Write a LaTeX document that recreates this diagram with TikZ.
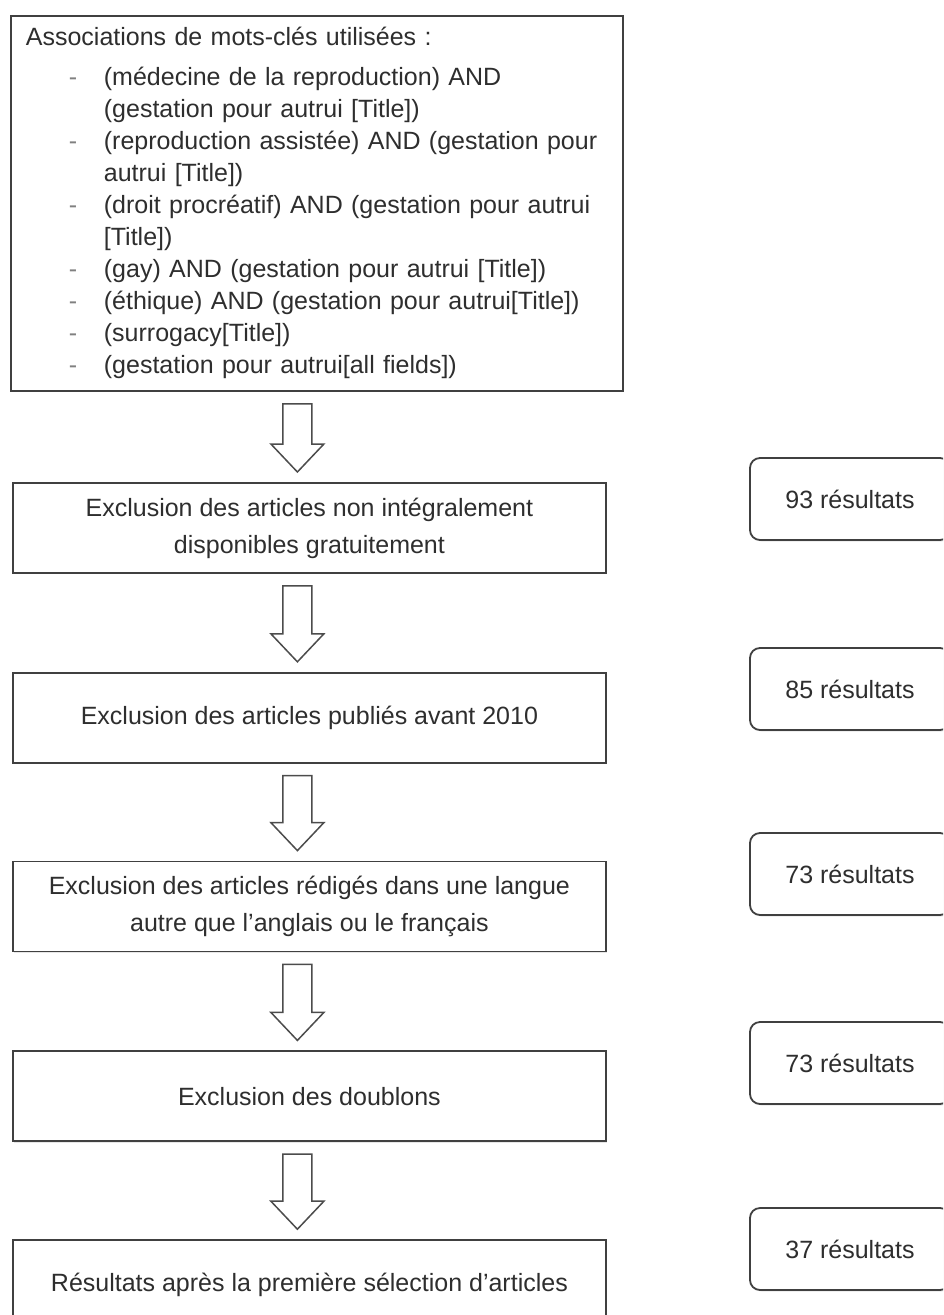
\documentclass[tikz,border=0pt]{standalone}
\usepackage{fontspec}
\setmainfont{Liberation Sans}
\usetikzlibrary{positioning, calc, shadows}

\newcommand{\blockarrow}[2]{%
  % hollow block arrow from the bottom of #1 to the top of #2
  \draw[flowarrow] let \p1=([yshift=-12pt]#1.south), \p2=([xshift=-12pt,yshift=10pt]#2.north) in
    (\x2-14.5pt,\y1) -- (\x2+14.5pt,\y1) -- (\x2+14.5pt,\y2+28pt) -- (\x2+26.5pt,\y2+28pt)
    -- (\x2,\y2) -- (\x2-26.5pt,\y2+28pt) -- (\x2-14.5pt,\y2+28pt) -- cycle;
}

\begin{document}
\begin{tikzpicture}[
    x=1pt, y=1pt,
    every node/.style={text=black!82, font=\fontsize{25}{37}\selectfont},
    kwbox/.style={rectangle, draw=black!75, line width=1.8pt, fill=white, text width=582pt, align=left,
      inner xsep=15pt, inner ysep=7pt, minimum height=375pt,
      drop shadow={opacity=0.2, shadow xshift=1.5pt, shadow yshift=-1.5pt}},
    stepbox/.style={rectangle, draw=black!75, line width=1.8pt, fill=white, minimum width=593pt,
      minimum height=90pt, align=center,
      drop shadow={opacity=0.2, shadow xshift=1.5pt, shadow yshift=-1.5pt}},
    countbox/.style={rectangle, rounded corners=10pt, draw=black!75, line width=1.8pt, fill=white,
      minimum width=200pt, minimum height=82pt,
      drop shadow={opacity=0.2, shadow xshift=1.5pt, shadow yshift=-1.5pt}},
    flowarrow/.style={draw=black!70, line width=1.5pt, fill=white, line join=miter}
  ]
  \clip (0,0) rectangle (943,-1315);

  % search terms
  \node[kwbox, anchor=north west] (keywords) at (10,-15) {%
    \fontsize{25}{32}\selectfont
    \begin{tabular}{@{}p{78pt}@{}l@{}}
      \multicolumn{2}{@{}l@{}}{Associations de mots-clés utilisées :}\\[8pt]
      \hspace*{43pt}\textcolor{gray}{-} & (médecine de la reproduction) AND\\
       & (gestation pour autrui [Title])\\
      \hspace*{43pt}\textcolor{gray}{-} & (reproduction assistée) AND (gestation pour\\
       & autrui [Title])\\
      \hspace*{43pt}\textcolor{gray}{-} & (droit procréatif) AND (gestation pour autrui\\
       & [Title])\\
      \hspace*{43pt}\textcolor{gray}{-} & (gay) AND (gestation pour autrui [Title])\\
      \hspace*{43pt}\textcolor{gray}{-} & (éthique) AND (gestation pour autrui[Title])\\
      \hspace*{43pt}\textcolor{gray}{-} & (surrogacy[Title])\\
      \hspace*{43pt}\textcolor{gray}{-} & (gestation pour autrui[all fields])
    \end{tabular}};

  % selection steps
  \node[stepbox, anchor=north west] (free) at (12,-482)
    {Exclusion des articles non intégralement\\disponibles gratuitement};
  \node[stepbox, below=98pt of free] (date) {Exclusion des articles publiés avant 2010};
  \node[stepbox, below=97pt of date] (lang)
    {Exclusion des articles rédigés dans une langue\\autre que l'anglais ou le français};
  \node[stepbox, below=98pt of lang] (dupl) {Exclusion des doublons};
  \node[stepbox, below=97pt of dupl] (final) {Résultats après la première sélection d'articles};

  % counts
  \node[countbox] (n1) at (850,-499) {93 résultats};
  \node[countbox] (n2) at (850,-689) {85 résultats};
  \node[countbox] (n3) at (850,-874) {73 résultats};
  \node[countbox] (n4) at (850,-1063) {73 résultats};
  \node[countbox] (n5) at (850,-1249) {37 résultats};

  \blockarrow{keywords}{free}
  \blockarrow{free}{date}
  \blockarrow{date}{lang}
  \blockarrow{lang}{dupl}
  \blockarrow{dupl}{final}
\end{tikzpicture}
\end{document}
